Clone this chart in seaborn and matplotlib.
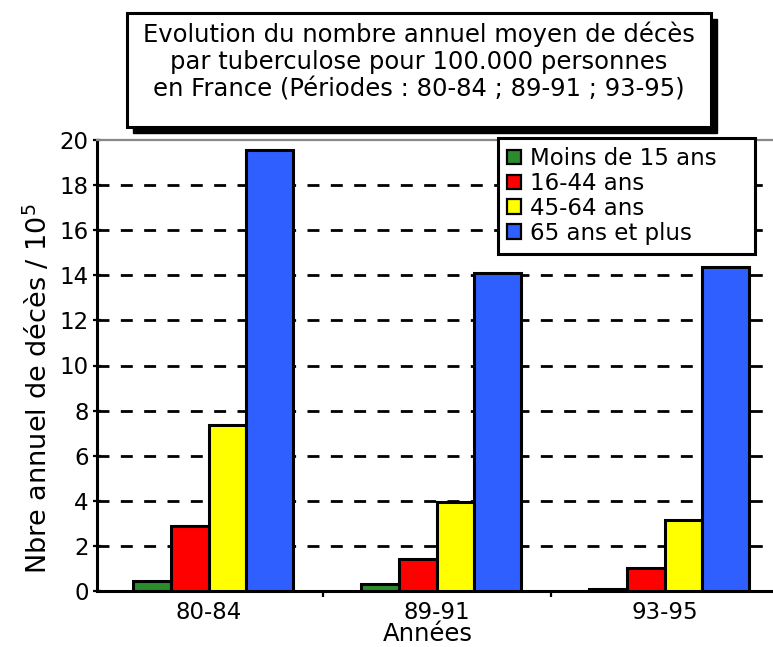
import matplotlib
matplotlib.use("Agg")
import matplotlib.pyplot as plt
from matplotlib.patches import Rectangle, Patch
import seaborn as sns
import pandas as pd

# Data: mean annual tuberculosis deaths per 100,000 people in France
periodes = ["80-84", "89-91", "93-95"]
tranches = ["Moins de 15 ans", "16-44 ans", "45-64 ans", "65 ans et plus"]
moins_15 = [0.45, 0.3, 0.1]
de_16_44 = [2.9, 1.4, 1.0]
de_45_64 = [7.35, 3.95, 3.15]
plus_65 = [19.55, 14.1, 14.35]
couleurs = ["#2a8c2a", "#ff0000", "#ffff00", "#2f5fff"]
yticks = [0, 2, 4, 6, 8, 10, 12, 14, 16, 18, 20]

valeurs = [moins_15, de_16_44, de_45_64, plus_65]
df = pd.DataFrame(
    [(p, t, v[i]) for t, v in zip(tranches, valeurs) for i, p in enumerate(periodes)],
    columns=["periode", "tranche", "valeur"],
)

sns.set_style("white")
plt.rcParams["font.family"] = ["DejaVu Sans"]
plt.rcParams["lines.scale_dashes"] = False
plt.rcParams["text.color"] = "black"
plt.rcParams["xtick.color"] = "black"
plt.rcParams["ytick.color"] = "black"

W, H = 773, 647
fig = plt.figure(figsize=(W / 100, H / 100), dpi=100)
fig.patch.set_facecolor("white")

def fx(px):
    return px / W

def fy(py):
    return 1 - py / H

# Axes box in pixels: left 97, right 781 (runs past the canvas), top 140, bottom 591
ax = fig.add_axes([fx(97), fy(591), fx(684), (591 - 140) / H])
ax.set_facecolor("white")

sns.barplot(
    data=df, x="periode", y="valeur", hue="tranche",
    order=periodes, hue_order=tranches, palette=couleurs,
    width=0.66, gap=0, edgecolor="black", linewidth=2.2,
    saturation=1, legend=False, ax=ax, zorder=3,
)

# The oldest-age bars are drawn a little wider than the others
bleu = matplotlib.colors.to_rgba(couleurs[3])
for bar in ax.patches:
    if tuple(round(c, 3) for c in bar.get_facecolor()) == tuple(round(c, 3) for c in bleu):
        bar.set_width(bar.get_width() * 1.25)

ax.set_xlim(-0.49, 2.51)
ax.set_ylim(0, 20)
ax.set_yticks(yticks)
ax.set_yticklabels([str(t) for t in yticks])
ax.set_xlabel("")
ax.set_ylabel("")

# Dashed horizontal guides
for t in yticks[1:-1]:
    ax.axhline(t, color="black", lw=2.0, ls=(0, (8.6, 8.2)), zorder=1)

for side in ["left", "bottom"]:
    ax.spines[side].set_color("black")
    ax.spines[side].set_linewidth(2.2)
ax.spines["top"].set_color("#888888")
ax.spines["top"].set_linewidth(1.6)
ax.spines["right"].set_visible(False)

ax.tick_params(axis="y", direction="inout", length=6, width=1.6,
               labelsize=16.5, pad=3, left=True)
ax.tick_params(axis="x", which="major", length=0, labelsize=16.5, pad=7)
ax.set_xticks([0.5, 1.5], minor=True)
ax.tick_params(axis="x", which="minor", direction="out", length=4, width=1.6,
               bottom=True)

# Legend with square swatches, stretched to its frame width
handles = [Patch(facecolor=c, edgecolor="black", linewidth=1.6) for c in couleurs]
leg = fig.legend(
    handles, tranches, loc="upper left", mode="expand",
    bbox_to_anchor=(fx(498), fy(248), fx(257), (248 - 138) / H),
    bbox_transform=fig.transFigure,
    fontsize=16.5, frameon=True, fancybox=False, framealpha=1,
    edgecolor="black", handlelength=0.6, handleheight=0.6,
    handletextpad=0.4, labelspacing=0.08, borderpad=0.4,
    borderaxespad=0, ncol=1,
)
leg.get_frame().set_linewidth(2.2)
leg.set_zorder(10)

# Title box with drop shadow
bx0, by0, bx1, by1 = 127, 13, 711, 127
fig.add_artist(Rectangle((fx(bx0 + 6), fy(by1 + 6)), fx(bx1 - bx0), (by1 - by0) / H,
                         transform=fig.transFigure, facecolor="black",
                         edgecolor="black", zorder=5))
fig.add_artist(Rectangle((fx(bx0), fy(by1)), fx(bx1 - bx0), (by1 - by0) / H,
                         transform=fig.transFigure, facecolor="white",
                         edgecolor="black", linewidth=2.2, zorder=6))
titre = [
    "Evolution du nombre annuel moyen de décès",
    "par tuberculose pour 100.000 personnes",
    "en France (Périodes : 80-84 ; 89-91 ; 93-95)",
]
for ligne, base in zip(titre, [42, 69, 97]):
    fig.text(fx(419), fy(base), ligne, ha="center", va="baseline",
             fontsize=17.5, zorder=7)

fig.text(fx(38), fy(389), "Nbre annuel de décès / 10$^5$", rotation=90,
         ha="center", va="center", fontsize=19.5)
fig.text(fx(428), fy(641), "Années", ha="center", va="baseline", fontsize=17.5)

fig.savefig("out.png", dpi=100)
